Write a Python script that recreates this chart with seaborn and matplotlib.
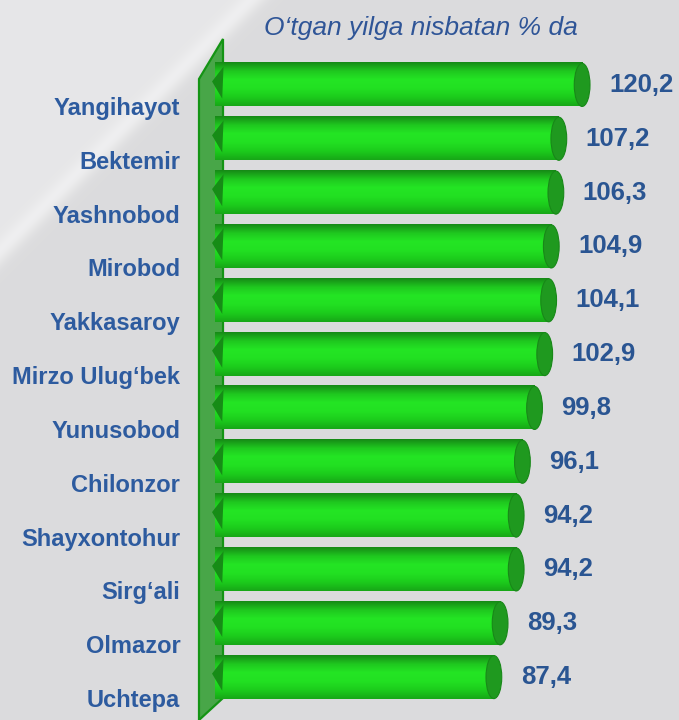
import numpy as np
import pandas as pd
import matplotlib
matplotlib.use("Agg")
import matplotlib.pyplot as plt
import matplotlib.transforms as mtransforms
from matplotlib.patches import Ellipse, Polygon
from matplotlib.colors import LinearSegmentedColormap
import seaborn as sns

# ---- data ----
districts = ["Yangihayot", "Bektemir", "Yashnobod", "Mirobod", "Yakkasaroy",
             "Mirzo Ulug‘bek", "Yunusobod", "Chilonzor", "Shayxontohur",
             "Sirg‘ali", "Olmazor", "Uchtepa"]
values = [120.2, 107.2, 106.3, 104.9, 104.1, 102.9, 99.8, 96.1, 94.2, 94.2, 89.3, 87.4]
title = "O‘tgan yilga nisbatan % da"

sns.set_theme(style="white")
plt.rcParams["font.family"] = ["Liberation Sans", "DejaVu Sans"]

W, H = 679, 720
fig = plt.figure(figsize=(W / 100, H / 100), dpi=100)
fig.patch.set_facecolor("#dcdcdc")

# background with diagonal light streak
bg = fig.add_axes([0, 0, 1, 1], zorder=-10)
yy, xx = np.mgrid[0:H, 0:W]
d = xx + yy
base = 0.862 + 0.042 / (1 + np.exp((d - 255) / 6))
streak = 0.045 * np.exp(-((d - 252) / 14) ** 2)
img = np.clip(base + streak, 0, 1)
rgb = np.dstack([img, img, img + 0.006])
bg.imshow(np.clip(rgb, 0, 1), aspect="auto", extent=(0, W, H, 0))
bg.set_xlim(0, W); bg.set_ylim(H, 0)
bg.axis("off")

# back wall (3D look)
def fx(x): return x / W
def fy(y): return 1 - y / H
wall = Polygon([(fx(199), fy(79)), (fx(223), fy(39)), (fx(223), fy(698)),
                (fx(199), fy(720))], closed=True, transform=fig.transFigure,
               facecolor="#48a648", edgecolor="#149414", lw=1.6, zorder=-5)
fig.patches.append(wall)

# main axes
ax = fig.add_axes([215 / W, 1 - 704 / H, (590 - 215) / W, (704 - 58) / H])
ax.patch.set_alpha(0)
df = pd.DataFrame({"district": districts, "value": values})
sns.barplot(data=df, y="district", x="value", orient="h", color="#22dd22",
            saturation=1, width=0.8, ax=ax, edgecolor="none")
xmax = 114.3
ax.set_xlim(0, xmax)
ylim = ax.get_ylim()

cmap = LinearSegmentedColormap.from_list(
    "cyl", ["#168a16", "#1fc81f", "#24e524", "#22e022", "#1ccc1c", "#17a817"])
grad = np.linspace(0, 1, 64).reshape(-1, 1)
cap_w = 4.8
for p, v in zip(ax.patches, values):
    x0, y0, w, h = p.get_x(), p.get_y(), p.get_width(), p.get_height()
    end = min(x0 + w, xmax)
    body_end = end - cap_w / 2
    p.set_width(body_end - x0)
    im = ax.imshow(grad, cmap=cmap, aspect="auto", origin="lower",
                   extent=(x0, body_end, y0, y0 + h), zorder=2)
    cap = Ellipse((body_end, y0 + h / 2), cap_w, h, facecolor="#1f991f",
                  edgecolor="#188818", lw=0.8, zorder=3, clip_on=False)
    ax.add_patch(cap)
    tip = Polygon([(x0 + 2.6, y0 + 0.06), (x0 - 0.9, y0 + h * 0.42),
                   (x0 + 2.2, y0 + h * 0.82)], closed=True,
                  facecolor="#168c16", edgecolor="none", zorder=3, clip_on=False)
    ax.add_patch(tip)
    ax.annotate(f"{v:.1f}".replace(".", ","), xy=(end, y0 + h / 2),
                xytext=(19, 0), textcoords="offset pixels", ha="left",
                va="center", fontsize=18.5, fontweight="bold",
                color="#2a5592", annotation_clip=False)
ax.set_xlim(0, xmax)
ax.set_ylim(ylim)

ax.set_xlabel(""); ax.set_ylabel("")
ax.set_xticks([])
ax.tick_params(axis="y", length=0, pad=25)
for lab in ax.get_yticklabels():
    lab.set_fontsize(17)
    lab.set_fontweight("bold")
    lab.set_color("#2d5b9f")
    lab.set_transform(lab.get_transform() +
                      mtransforms.ScaledTranslation(0, -0.21, fig.dpi_scale_trans))
for s in ax.spines.values():
    s.set_visible(False)

fig.text(421 / W, 1 - 28 / H, title, ha="center", va="center", style="italic",
         fontsize=19, color="#2f5597")

fig.savefig("out.png", dpi=100, facecolor=fig.get_facecolor())
